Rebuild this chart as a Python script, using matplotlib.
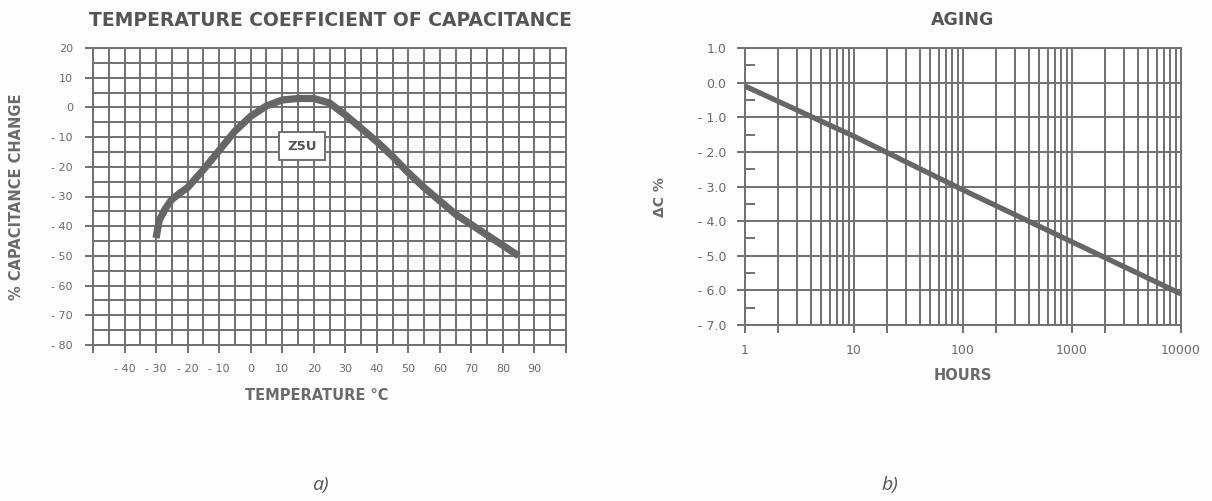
"""
Capacitor datasheet figure:
  a) temperature coefficient of capacitance (Z5U)
  b) aging, delta C % versus hours (log scale)
"""

import matplotlib
matplotlib.use("Agg")
import matplotlib.pyplot as plt
from matplotlib.ticker import FixedLocator, FixedFormatter, NullFormatter
import numpy as np

# ---------------------------------------------------------------------------
# Data
# ---------------------------------------------------------------------------

# --- a) temperature coefficient --------------------------------------------
temp_c = [-30, -29, -27, -25, -22, -20, -15, -10, -5, 0, 5, 10, 15, 20, 25,
          30, 35, 40, 45, 50, 55, 60, 65, 70, 75, 80, 85]
cap_change = [-44, -38, -34, -31, -28.5, -27, -21, -14.5, -8, -3, 0.5, 2.5, 3, 3, 1.5,
              -2.5, -7, -11.5, -16.5, -22, -27, -31.5, -36, -39.5, -43, -46.5, -50]
temp_ticks = [-50, -40, -30, -20, -10, 0, 10, 20, 30, 40, 50, 60, 70, 80, 90, 100]
temp_labels = ["", "- 40", "- 30", "- 20", "- 10", "0", "10", "20", "30", "40",
               "50", "60", "70", "80", "90", ""]
cap_ticks = [20, 10, 0, -10, -20, -30, -40, -50, -60, -70, -80]
cap_labels = ["20", "10", "0", "- 10", "- 20", "- 30", "- 40", "- 50", "- 60", "- 70", "- 80"]

# --- b) aging ---------------------------------------------------------------
hours = [1, 10, 100, 1000, 10000]
delta_c = [-0.1, -1.55, -3.1, -4.6, -6.1]
hour_ticks = [1, 2, 10, 20, 100, 200, 1000, 2000, 10000]
hour_labels = ["1", "", "10", "", "100", "", "1000", "", "10000"]
dc_ticks = [1, 0, -1, -2, -3, -4, -5, -6, -7]
dc_labels = ["1.0", "0.0", "- 1.0", "- 2.0", "- 3.0", "- 4.0", "- 5.0", "- 6.0", "- 7.0"]

# ---------------------------------------------------------------------------
# Style
# ---------------------------------------------------------------------------

W, H = 1212, 501
GRID = "#707070"
CURVE = "#666666"
TXT = "#555555"
TXT_LIGHT = "#6a6a6a"
BG = "#fdfdfd"

plt.rcParams["font.family"] = ["DejaVu Sans"]


def px_box(left, top, right, bottom):
    """pixel box -> figure fraction rect"""
    return [left / W, (H - bottom) / H, (right - left) / W, (bottom - top) / H]


def px(x, y):
    return x / W, (H - y) / H


def style_frame(ax):
    ax.set_facecolor("white")
    for s in ax.spines.values():
        s.set_color(GRID)
        s.set_linewidth(1.4)
    ax.set_axisbelow(True)


fig = plt.figure(figsize=(W / 100, H / 100), dpi=100)
fig.patch.set_facecolor(BG)

# ---------------------------------------------------------------------------
# a) temperature coefficient
# ---------------------------------------------------------------------------
ax1 = fig.add_axes(px_box(93, 48, 566, 345))
style_frame(ax1)
ax1.plot(temp_c, cap_change, color=CURVE, lw=5.2, solid_capstyle="butt", zorder=3)
ax1.set_xlim(-50, 100)
ax1.set_ylim(-80, 20)

ax1.xaxis.set_major_locator(FixedLocator(temp_ticks))
ax1.xaxis.set_major_formatter(FixedFormatter(temp_labels))
ax1.xaxis.set_minor_locator(FixedLocator(np.arange(-45, 100, 10)))
ax1.yaxis.set_major_locator(FixedLocator(cap_ticks))
ax1.yaxis.set_major_formatter(FixedFormatter(cap_labels))
ax1.yaxis.set_minor_locator(FixedLocator(np.arange(-75, 20, 10)))
ax1.tick_params(which="major", length=5.5, width=1.4, color=GRID,
                labelsize=8, labelcolor=TXT_LIGHT)
ax1.tick_params(axis="x", which="major", pad=8)
ax1.tick_params(axis="y", which="major", pad=9)
ax1.tick_params(which="minor", length=0)
ax1.grid(True, which="both", color=GRID, lw=1.4)

ax1.text(16.3, -13, "Z5U", ha="center", va="center", fontsize=9.5,
         fontweight="bold", color=TXT, zorder=4,
         bbox=dict(boxstyle="square,pad=0.6", fc="white", ec=GRID, lw=1.4))

fig.text(*px(330, 20), "TEMPERATURE COEFFICIENT OF CAPACITANCE", ha="center", va="center",
         fontsize=13.5, fontweight="bold", color=TXT)
fig.text(*px(317, 396), "TEMPERATURE °C", ha="center", va="center",
         fontsize=10.5, fontweight="bold", color=TXT_LIGHT)
fig.text(*px(17, 197), "% CAPACITANCE CHANGE", ha="center", va="center", rotation=90,
         fontsize=10.5, fontweight="bold", color=TXT_LIGHT)

# ---------------------------------------------------------------------------
# b) aging
# ---------------------------------------------------------------------------
ax2 = fig.add_axes(px_box(745, 48, 1181, 325))
style_frame(ax2)
ax2.plot(hours, delta_c, color=CURVE, lw=3.8, solid_capstyle="butt", zorder=3)
ax2.set_xscale("log")
ax2.set_xlim(1, 10000)
ax2.set_ylim(-7, 1)

ax2.xaxis.set_major_locator(FixedLocator(hour_ticks))
ax2.xaxis.set_major_formatter(FixedFormatter(hour_labels))
ax2.xaxis.set_minor_locator(FixedLocator(
    [m * 10 ** d for d in range(4) for m in range(3, 10)]))
ax2.xaxis.set_minor_formatter(NullFormatter())
ax2.yaxis.set_major_locator(FixedLocator(dc_ticks))
ax2.yaxis.set_major_formatter(FixedFormatter(dc_labels))
ax2.yaxis.set_minor_locator(FixedLocator(np.arange(-6.5, 1, 1)))
ax2.tick_params(which="major", length=5.5, width=1.4, color=GRID,
                labelsize=9, labelcolor=TXT_LIGHT)
ax2.tick_params(axis="x", which="major", pad=8)
ax2.tick_params(axis="y", which="major", pad=8)
ax2.tick_params(axis="x", which="minor", length=0)
ax2.tick_params(axis="y", which="minor", direction="in", length=7, width=1.4, color=GRID)
ax2.grid(True, which="both", axis="x", color=GRID, lw=1.4)
ax2.grid(True, which="major", axis="y", color=GRID, lw=1.4)

fig.text(*px(963, 20), "AGING", ha="center", va="center",
         fontsize=12.5, fontweight="bold", color=TXT)
fig.text(*px(963, 375), "HOURS", ha="center", va="center",
         fontsize=10.5, fontweight="bold", color=TXT_LIGHT)
fig.text(*px(660, 197), "ΔC %", ha="center", va="center", rotation=90,
         fontsize=10, fontweight="bold", color=TXT_LIGHT)

# ---------------------------------------------------------------------------
# sub-figure captions
# ---------------------------------------------------------------------------
fig.text(*px(320, 485), "a)", ha="center", va="center", fontsize=14,
         style="italic", family="Open Sans", color=TXT)
fig.text(*px(890, 485), "b)", ha="center", va="center", fontsize=14,
         style="italic", family="Open Sans", color=TXT)

fig.savefig("out.png", dpi=100, facecolor=fig.get_facecolor())
